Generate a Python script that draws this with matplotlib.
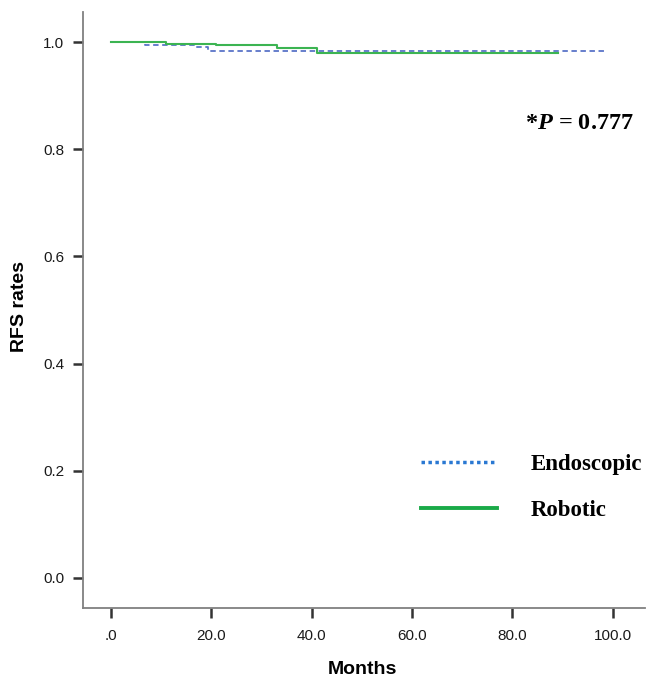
import numpy as np
import matplotlib
matplotlib.use("Agg")
import matplotlib.pyplot as plt
from matplotlib.lines import Line2D
from matplotlib.ticker import FuncFormatter

plt.rcParams['font.family'] = ['Liberation Sans', 'DejaVu Sans']
plt.rcParams['mathtext.fontset'] = 'custom'
plt.rcParams['mathtext.it'] = 'Liberation Serif:italic:bold'
plt.rcParams['mathtext.rm'] = 'Liberation Serif:bold'

# Kaplan-Meier step data
endo_months = [0, 6.8, 16.9, 19.3, 98.2]
endo_rfs = [1.0, 0.994, 0.991, 0.984, 0.984]
robo_months = [0, 11, 21, 33, 41, 89.1]
robo_rfs = [1.0, 0.996, 0.994, 0.989, 0.980, 0.980]

x_ticks = [0, 20, 40, 60, 80, 100]
y_ticks = [0.0, 0.2, 0.4, 0.6, 0.8, 1.0]
group_names = ['Endoscopic', 'Robotic']
p_text = r'*$\mathit{P}$ = 0.777'

W, H = 646, 678
fig = plt.figure(figsize=(W / 100, H / 100), dpi=100)
ax = fig.add_axes([83 / W, 1 - 608 / H, (645 - 83) / W, (608 - 12) / H])

ax.step(endo_months, endo_rfs, where='post', color='#5a74c8', lw=1.3,
        linestyle=(0, (3, 2)))
ax.step(robo_months, robo_rfs, where='post', color='#3cb452', lw=1.5)

ax.set_xlim(-5.57, 106.4)
ax.set_ylim(-0.056, 1.056)
ax.set_xticks(x_ticks)
ax.set_yticks(y_ticks)
ax.xaxis.set_major_formatter(FuncFormatter(lambda v, p: '.0' if v == 0 else f'{v:.1f}'))
ax.yaxis.set_major_formatter(FuncFormatter(lambda v, p: f'{v:.1f}'))

for s in ['top', 'right']:
    ax.spines[s].set_visible(False)
for s in ['left', 'bottom']:
    ax.spines[s].set_color('#808080')
    ax.spines[s].set_linewidth(1.3)
ax.tick_params(axis='both', direction='out', length=7, width=1.8, color='#333333',
               labelsize=11, labelcolor='#1a1a1a')
ax.tick_params(axis='x', pad=8)
ax.tick_params(axis='y', pad=6.5)

ax.set_xlabel('Months', fontsize=14, fontweight='bold')
ax.xaxis.set_label_coords(362 / W, 1 - 674 / H, transform=fig.transFigure)
ax.xaxis.label.set_va('baseline')
ax.set_ylabel('RFS rates', fontsize=14, fontweight='bold')
ax.yaxis.set_label_coords(11 / W, 1 - 307 / H, transform=fig.transFigure)
ax.yaxis.label.set_va('top')

fig.text(525 / W, 1 - 129 / H, p_text, fontsize=17.5, fontweight='bold',
         family='Liberation Serif', va='baseline', ha='left')

handles = [Line2D([], [], color='#2a78d2', lw=2.5, linestyle=(0, (1, 1))),
           Line2D([], [], color='#1aaa48', lw=2.8)]
leg = fig.legend(handles, group_names, loc='upper left',
                 bbox_to_anchor=(421 / W, 1 - 454 / H), frameon=False,
                 prop={'family': 'Liberation Serif', 'weight': 'bold', 'size': 16.5},
                 handlelength=3.3, handletextpad=1.5, labelspacing=1.07,
                 borderpad=0, borderaxespad=0)

fig.savefig('out.png', dpi=100)
